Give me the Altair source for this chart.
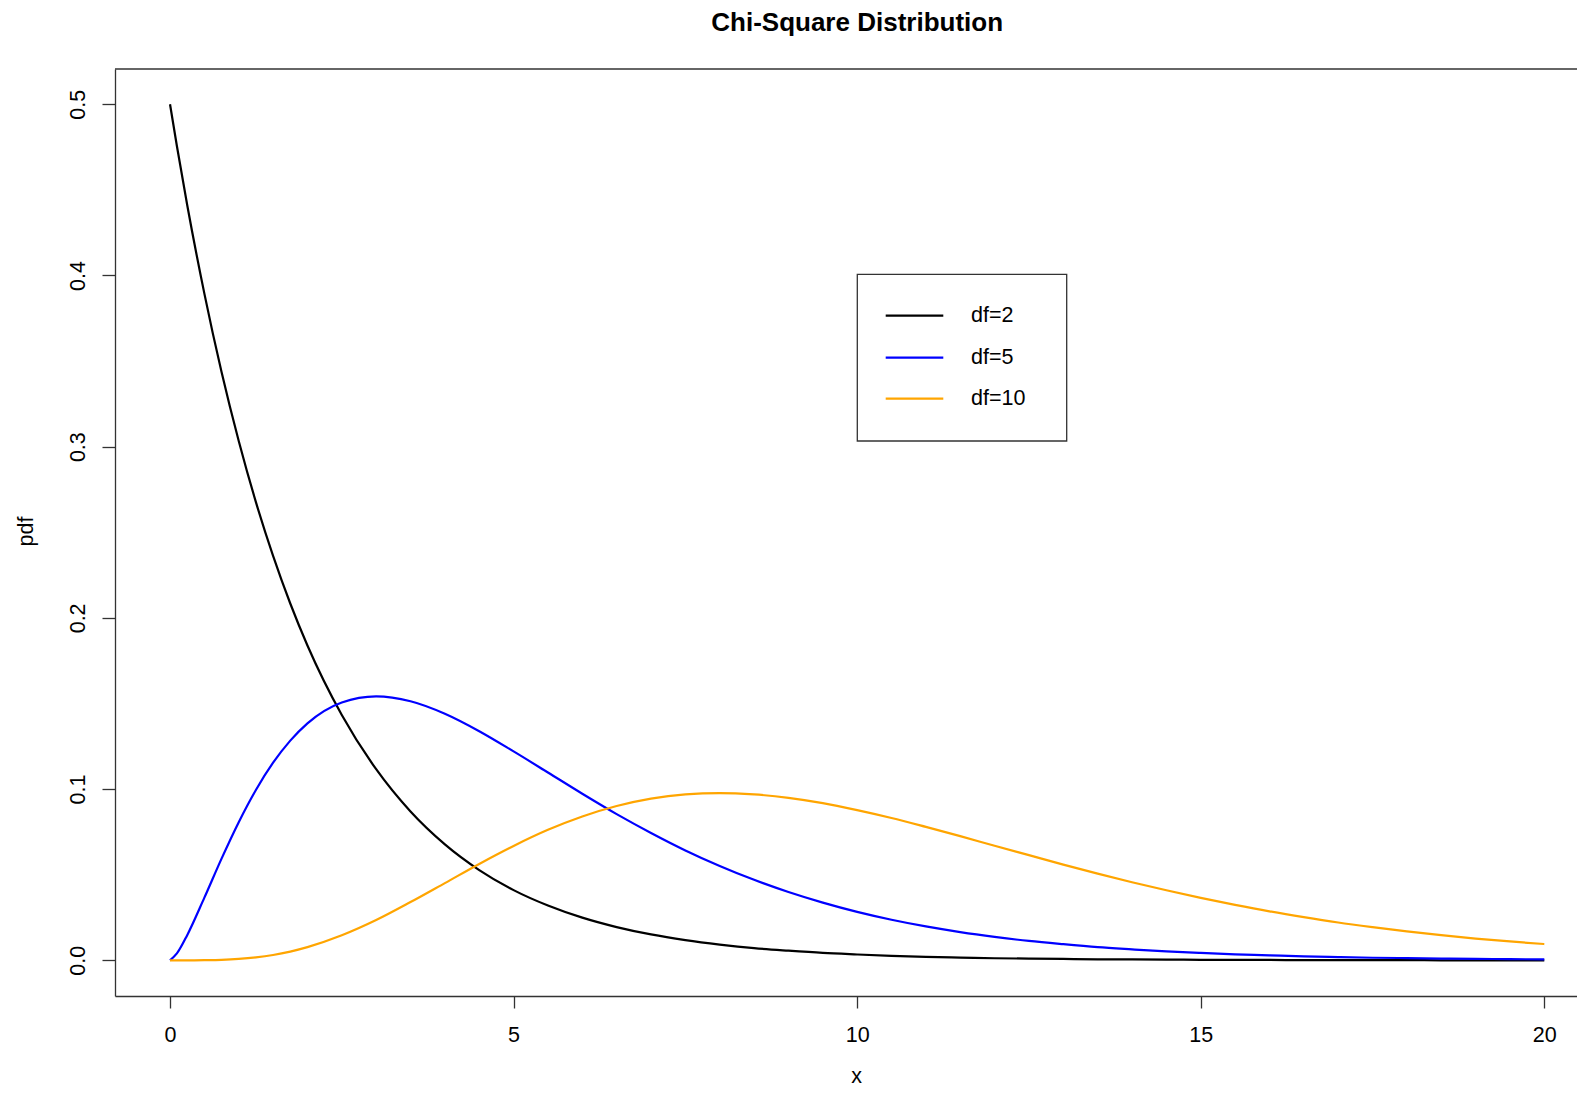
import altair as alt
import pandas as pd

TITLE = "Chi-Square Distribution"
X_LABEL = "x"
Y_LABEL = "pdf"
SERIES = ["df=2", "df=5", "df=10"]
COLORS = ["#000000", "#0000FF", "#FFA500"]
X_TICKS = [0, 5, 10, 15, 20]
Y_TICKS = [0.0, 0.1, 0.2, 0.3, 0.4, 0.5]

x_vals = [0.0, 0.1, 0.25, 0.5, 0.75, 1.0, 1.25, 1.5, 1.75, 2.0, 2.5, 3.0, 3.5, 4.0, 4.5,
          5.0, 5.5, 6.0, 6.5, 7.0, 7.5, 8.0, 8.5, 9.0, 9.5,
          10.0, 10.5, 11.0, 11.5, 12.0, 12.5, 13.0, 13.5, 14.0, 14.5,
          15.0, 15.5, 16.0, 16.5, 17.0, 17.5, 18.0, 18.5, 19.0, 19.5, 20.0]

pdf_df2 = [0.5, 0.4756, 0.4412, 0.3894, 0.3436, 0.3033, 0.2676, 0.2362, 0.2084, 0.1839,
           0.1433, 0.1116, 0.0869, 0.0677, 0.0527,
           0.0410, 0.0320, 0.0249, 0.0194, 0.0151, 0.0118, 0.0092, 0.0071, 0.0056, 0.0043,
           0.0034, 0.0026, 0.0020, 0.0016, 0.0012, 0.0010, 0.0008, 0.0006, 0.0005, 0.0004,
           0.0003, 0.0002, 0.0002, 0.0001, 0.0001, 0.0001, 0.0001, 0.0000, 0.0000, 0.0000, 0.0000]

pdf_df5 = [0.0, 0.0040, 0.0147, 0.0366, 0.0594, 0.0807, 0.0995, 0.1154, 0.1283, 0.1384,
           0.1506, 0.1542, 0.1513, 0.1440, 0.1338,
           0.1220, 0.1097, 0.0973, 0.0854, 0.0744, 0.0642, 0.0551, 0.0470, 0.0399, 0.0337,
           0.0283, 0.0237, 0.0198, 0.0165, 0.0137, 0.0113, 0.0094, 0.0077, 0.0064, 0.0052,
           0.0043, 0.0035, 0.0029, 0.0023, 0.0019, 0.0015, 0.0013, 0.0010, 0.0008, 0.0007, 0.0005]

pdf_df10 = [0.0, 0.0000, 0.0000, 0.0001, 0.0003, 0.0008, 0.0017, 0.0031, 0.0051, 0.0077,
            0.0146, 0.0235, 0.0340, 0.0451, 0.0563,
            0.0668, 0.0762, 0.0840, 0.0901, 0.0944, 0.0969, 0.0977, 0.0969, 0.0949, 0.0918,
            0.0877, 0.0831, 0.0779, 0.0725, 0.0669, 0.0614, 0.0559, 0.0506, 0.0456, 0.0409,
            0.0365, 0.0324, 0.0286, 0.0252, 0.0221, 0.0194, 0.0169, 0.0147, 0.0127, 0.0110, 0.0095]

series_values = [pdf_df2, pdf_df5, pdf_df10]
for vals in series_values:
    assert len(vals) == len(x_vals)

rows = []
for name, vals in zip(SERIES, series_values):
    for xv, yv in zip(x_vals, vals):
        rows.append({"x": xv, "pdf": yv, "series": name})
data = pd.DataFrame(rows)

# ---- layout / style ----
W, H = 1462, 927
FONT = "Liberation Sans"
FS = 21.5
AXIS_COLOR = "#333333"
LW = 2.2

x_scale = alt.Scale(domain=[-0.8007, 20.476], nice=False, zero=False)
y_scale = alt.Scale(domain=[-0.02085, 0.5206], nice=False, zero=False)
color_scale = alt.Scale(domain=SERIES, range=COLORS)

lines = alt.Chart(data).mark_line(strokeWidth=LW, interpolate="monotone").encode(
    x=alt.X("x:Q", scale=x_scale,
            axis=alt.Axis(values=X_TICKS, format="d", grid=False,
                          domainColor=AXIS_COLOR, domainWidth=1.3,
                          tickColor=AXIS_COLOR, tickWidth=1.3, tickSize=12,
                          labelFont=FONT, labelFontSize=FS, labelColor="#000000",
                          labelBaseline="alphabetic", labelPadding=33,
                          labelFlush=False, labelOverlap=False,
                          title=X_LABEL, titleFont=FONT, titleFontSize=FS,
                          titleFontWeight="normal", titleColor="#000000",
                          titleX=741, titleY=86, titleAlign="center",
                          titleBaseline="alphabetic")),
    y=alt.Y("pdf:Q", scale=y_scale,
            axis=alt.Axis(values=Y_TICKS, format=".1f", grid=False,
                          domainColor=AXIS_COLOR, domainWidth=1.3,
                          tickColor=AXIS_COLOR, tickWidth=1.3, tickSize=13,
                          labelFont=FONT, labelFontSize=FS, labelColor="#000000",
                          labelAngle=270, labelAlign="center",
                          labelBaseline="alphabetic", labelPadding=18,
                          labelFlush=False, labelOverlap=False,
                          title=Y_LABEL, titleFont=FONT, titleFontSize=FS,
                          titleFontWeight="normal", titleColor="#000000",
                          titleAngle=270, titleX=-83, titleY=462,
                          titleAlign="center", titleBaseline="alphabetic")),
    color=alt.Color("series:N", scale=color_scale, legend=None),
    detail="series:N",
)

one = pd.DataFrame({"k": [0]})

top_border = alt.Chart(one).mark_rule(color=AXIS_COLOR, strokeWidth=1.3).encode(
    x=alt.value(0), x2=alt.value(W), y=alt.value(0)
)

title = alt.Chart(pd.DataFrame({"label": [TITLE]})).mark_text(
    font=FONT, fontSize=26, fontWeight="bold", color="#000000",
    align="center", baseline="alphabetic"
).encode(x=alt.datum(10), y=alt.value(-38), text="label:N")

# legend box (drawn like R's legend)
LB_L, LB_T, LB_R, LB_B = 742.3, 205.3, 951.7, 372.0
ROW_Y = [246.7, 288.7, 329.7]
LINE_X0, LINE_X1, TEXT_X = 770.7, 828.3, 856.0

legend_layers = [
    alt.Chart(one).mark_rect(fill="white", stroke=AXIS_COLOR, strokeWidth=1.3).encode(
        x=alt.value(LB_L), x2=alt.value(LB_R), y=alt.value(LB_T), y2=alt.value(LB_B)
    )
]
for name, col, ry in zip(SERIES, COLORS, ROW_Y):
    legend_layers.append(
        alt.Chart(one).mark_rule(color=col, strokeWidth=LW).encode(
            x=alt.value(LINE_X0), x2=alt.value(LINE_X1), y=alt.value(ry)
        )
    )
    legend_layers.append(
        alt.Chart(pd.DataFrame({"label": [name]})).mark_text(
            font=FONT, fontSize=FS, color="#000000", align="left", baseline="middle"
        ).encode(x=alt.value(TEXT_X), y=alt.value(ry), text="label:N")
    )

chart = alt.layer(lines, top_border, title, *legend_layers).properties(
    width=W, height=H,
    autosize=alt.AutoSizeParams(type="none"),
    padding={"left": 107, "top": 61, "right": 0, "bottom": 91},
    background="white",
).configure_view(strokeWidth=0)

chart.save("out.html", embed_options={"renderer": "svg", "actions": False})
